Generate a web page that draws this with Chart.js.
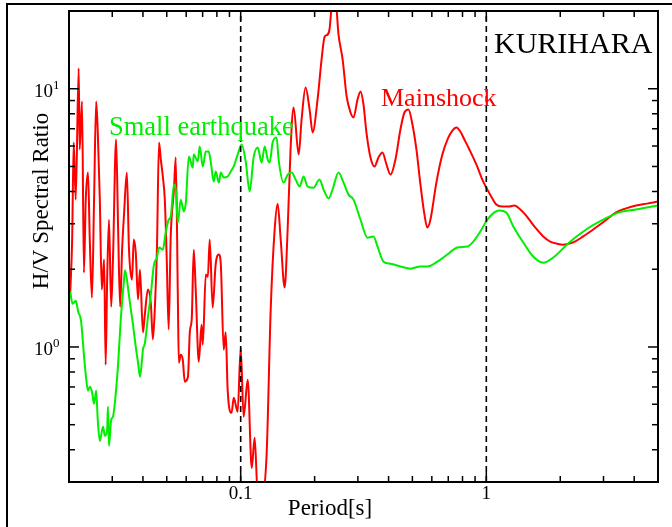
<!DOCTYPE html>
<html><head><meta charset="utf-8">
<script src="https://cdn.jsdelivr.net/npm/chart.js@4.4.1/dist/chart.umd.min.js"></script>
<style>html,body{margin:0;padding:0;background:#fff;}canvas{display:block;}</style>
</head><body>
<canvas id="c" width="672" height="527"></canvas>
<script>
// ---- data (Period [s], H/V spectral ratio) ----
const mainPeriod = [0.0202,0.0206,0.0209,0.0213,0.0219,0.0221,0.0226,0.0230,0.0234,0.0239,0.0243,0.0248,0.0253,0.0258,0.0262,0.0267,0.0272,0.0278,0.0282,0.0286,0.0291,0.0297,0.0302,0.0311,0.0317,0.0323,0.0329,0.0335,0.0344,0.0351,0.0361,0.0367,0.0374,0.0382,0.0389,0.0400,0.0407,0.0419,0.0431,0.0439,0.0447,0.0456,0.0465,0.0473,0.0482,0.0491,0.0500,0.0509,0.0519,0.0535,0.0544,0.0555,0.0560,0.0570,0.0581,0.0592,0.0610,0.0621,0.0632,0.0644,0.0656,0.0675,0.0693,0.0701,0.0721,0.0735,0.0748,0.0769,0.0791,0.0815,0.0830,0.0853,0.0869,0.0885,0.0918,0.0937,0.0972,0.100,0.1028,0.1068,0.1109,0.1140,0.1173,0.1229,0.1276,0.1325,0.1375,0.1414,0.1455,0.151,0.1553,0.1596,0.1642,0.1722,0.177,0.1837,0.1908,0.1963,0.2056,0.2135,0.2196,0.2258,0.230,0.2366,0.2432,0.2502,0.260,0.270,0.280,0.2879,0.299,0.3076,0.3162,0.325,0.3376,0.3505,0.3639,0.3778,0.3922,0.4073,0.4266,0.447,0.4642,0.482,0.5003,0.5193,0.5393,0.5598,0.5754,0.5921,0.6262,0.6623,0.7008,0.7278,0.7551,0.7838,0.8141,0.8531,0.9107,0.9632,1.0,1.048,1.098,1.161,1.240,1.300,1.361,1.427,1.496,1.597,1.705,1.820,1.944,2.056,2.258,2.479,2.723,3.018,3.378,3.71,4.073,4.514,5.0];
const mainRatio = [1.57,2.61,6.19,3.72,12.0,5.82,8.93,1.94,3.72,4.74,2.61,1.55,3.72,8.93,6.77,3.72,1.67,2.18,0.854,1.82,3.11,1.43,2.18,6.36,2.85,1.43,2.38,3.26,4.74,2.38,1.82,2.61,2.32,1.53,1.99,1.14,1.33,1.67,1.46,1.07,1.40,2.38,6.19,5.32,4.57,3.72,2.18,1.17,2.68,4.07,5.42,1.53,0.869,0.933,0.893,0.734,0.767,1.15,1.28,2.38,1.67,0.877,1.22,1.02,1.91,1.87,2.61,1.42,2.09,2.28,2.09,0.976,1.14,0.683,0.556,0.636,0.561,0.994,0.537,0.747,0.340,0.445,0.27,0.27,0.389,1.40,2.85,3.59,2.61,1.70,2.85,5.82,8.46,5.56,7.60,10.1,8.31,6.77,9.09,13.0,15.9,16.2,17.0,22,22,16.2,13.0,9.34,8.09,7.74,9.09,9.76,8.69,6.77,5.42,5.00,5.42,5.66,5.09,4.65,5.32,6.95,8.09,8.31,7.27,5.82,4.26,3.26,2.90,3.11,4.33,5.56,6.48,6.89,7.08,6.83,6.36,5.82,5.09,4.45,4.14,3.82,3.56,3.50,3.50,3.53,3.44,3.29,3.11,2.87,2.68,2.56,2.51,2.49,2.54,2.68,2.85,3.06,3.32,3.44,3.53,3.59,3.66];

const smallPeriod = [0.0202,0.0207,0.0213,0.0218,0.0224,0.0230,0.0234,0.0239,0.0243,0.0248,0.0253,0.0258,0.0262,0.0267,0.0275,0.0280,0.0286,0.0288,0.0291,0.0297,0.0302,0.0311,0.0317,0.0325,0.0335,0.0338,0.0351,0.0357,0.0364,0.0374,0.0382,0.0389,0.0396,0.0400,0.0407,0.0419,0.0431,0.0443,0.0456,0.0465,0.0482,0.0495,0.0509,0.0519,0.0535,0.0544,0.0555,0.0570,0.0587,0.0598,0.0615,0.0638,0.0644,0.0669,0.0681,0.0701,0.0721,0.0741,0.0755,0.0777,0.0791,0.0815,0.0830,0.0853,0.0885,0.0911,0.0937,0.0972,0.1009,0.1048,0.1088,0.1129,0.1173,0.1217,0.1252,0.1288,0.1312,0.1349,0.140,0.1427,0.1496,0.1553,0.1612,0.1674,0.1738,0.1803,0.1873,0.198,0.2094,0.2175,0.2279,0.2366,0.2502,0.2623,0.2748,0.2879,0.3075,0.3283,0.3473,0.3605,0.3814,0.4073,0.447,0.491,0.5393,0.5755,0.6322,0.694,0.7623,0.8373,0.8855,0.9454,1.0095,1.078,1.129,1.206,1.288,1.414,1.552,1.705,1.873,2.175,2.55,2.99,3.473,4.073,5.0];
const smallRatio = [1.64,1.47,1.51,1.37,1.26,0.934,0.781,0.677,0.702,0.671,0.603,0.677,0.518,0.433,0.491,0.453,0.478,0.587,0.414,0.523,0.537,0.683,0.862,1.28,1.82,1.98,1.58,1.40,1.23,1.00,0.869,0.767,0.877,0.976,1.03,1.30,1.61,2.07,2.22,2.43,2.38,2.77,3.11,3.20,4.26,4.07,3.03,3.72,3.35,3.63,5.47,4.95,5.56,5.23,5.97,5.00,5.71,5.71,5.23,4.37,4.78,4.33,4.74,4.53,4.57,4.78,5.00,5.56,6.08,5.23,4.00,5.42,5.92,5.18,5.97,5.32,5.18,6.19,6.48,5.32,4.33,4.65,4.74,4.45,4.18,4.57,4.18,4.14,4.45,4.07,3.76,4.07,4.74,4.33,3.89,3.72,3.11,2.65,2.68,2.45,2.14,2.10,2.05,2.01,2.05,2.05,2.14,2.28,2.43,2.45,2.56,2.80,3.11,3.32,3.38,3.32,2.93,2.54,2.24,2.12,2.22,2.54,2.85,3.11,3.32,3.41,3.53];

const refPeriods = [0.1, 1];
const xMajorTicks = [0.1, 1];
const xTickLabels = ['0.1', '1'];
const xMinorTicks = [0.03,0.04,0.05,0.06,0.07,0.08,0.09,0.2,0.3,0.4,0.5,0.6,0.7,0.8,0.9,2,3,4];
const yMajorTicks = [1, 10];
const yTickBase = ['10', '10'];
const yTickExp = ['0', '1'];
const yMinorTicks = [0.4,0.5,0.6,0.7,0.8,0.9,2,3,4,5,6,7,8,9];

const RED = '#ff0000', GREEN = '#00ee00';
const F = "'Liberation Serif','Times New Roman',serif";

const toXY = (xs, ys) => xs.map((v, i) => ({x: v, y: ys[i]}));

const decor = {
  id: 'decor',
  afterDraw(chart) {
    const {ctx, chartArea: a, scales: {x, y}} = chart;
    ctx.save();
    ctx.fillStyle = '#000';
    ctx.fillRect(6, 3, 666, 2);
    ctx.fillRect(6, 3, 2, 524);
    ctx.strokeStyle = '#000';
    ctx.lineWidth = 1.5;
    const seg = (x1, y1, x2, y2) => { ctx.beginPath(); ctx.moveTo(x1, y1); ctx.lineTo(x2, y2); ctx.stroke(); };
    xMajorTicks.forEach(v => { const p = x.getPixelForValue(v); seg(p, a.bottom, p, a.bottom - 10); seg(p, a.top, p, a.top + 10); });
    xMinorTicks.forEach(v => { const p = x.getPixelForValue(v); seg(p, a.bottom, p, a.bottom - 6); seg(p, a.top, p, a.top + 6); });
    yMajorTicks.forEach(v => { const p = y.getPixelForValue(v); seg(a.left, p, a.left + 10, p); seg(a.right, p, a.right - 10, p); });
    yMinorTicks.forEach(v => { const p = y.getPixelForValue(v); seg(a.left, p, a.left + 6, p); seg(a.right, p, a.right - 6, p); });
    ctx.lineWidth = 2;
    ctx.strokeRect(a.left, a.top, a.right - a.left, a.bottom - a.top);
    ctx.fillStyle = '#000';
    ctx.textBaseline = 'alphabetic';
    ctx.font = '19px ' + F;
    ctx.textAlign = 'center';
    xMajorTicks.forEach((v, i) => ctx.fillText(xTickLabels[i], x.getPixelForValue(v), a.bottom + 17));
    yMajorTicks.forEach((v, i) => {
      const p = y.getPixelForValue(v);
      ctx.font = '19px ' + F; ctx.textAlign = 'right';
      ctx.fillText(yTickBase[i], a.left - 16, p + 8);
      ctx.font = '13px ' + F; ctx.textAlign = 'left';
      ctx.fillText(yTickExp[i], a.left - 16, p);
    });
    ctx.font = '23px ' + F;
    ctx.textAlign = 'center';
    ctx.fillText('Period[s]', 330, 515);
    ctx.save();
    ctx.translate(48, 201);
    ctx.rotate(-Math.PI / 2);
    ctx.fillText('H/V Spectral Ratio', 0, 0);
    ctx.restore();
    ctx.textAlign = 'left';
    ctx.font = '30px ' + F;
    ctx.fillStyle = '#000';
    ctx.fillText('KURIHARA', 494, 53);
    ctx.font = '26px ' + F;
    ctx.fillStyle = RED;
    ctx.fillText('Mainshock', 381, 106);
    ctx.font = '26.5px ' + F;
    ctx.fillStyle = GREEN;
    ctx.fillText('Small earthquake', 109, 135);
    ctx.restore();
  }
};

new Chart(document.getElementById('c'), {
  type: 'scatter',
  data: {
    datasets: [
      { label: 'Small earthquake', data: toXY(smallPeriod, smallRatio), showLine: true, cubicInterpolationMode: 'monotone', borderColor: GREEN, borderWidth: 2, pointRadius: 0, order: 1, clip: 0 },
      { label: 'Mainshock', data: toXY(mainPeriod, mainRatio), showLine: true, cubicInterpolationMode: 'monotone', borderColor: RED, borderWidth: 2, pointRadius: 0, order: 2, clip: 0 },
      ...refPeriods.map(p => ({ label: 'ref ' + p, data: [{x: p, y: 0.3}, {x: p, y: 20}], showLine: true, borderColor: '#000', borderWidth: 1.6, borderDash: [6, 4], pointRadius: 0, order: 0, clip: 0 }))
    ]
  },
  options: {
    responsive: false,
    animation: false,
    devicePixelRatio: 1,
    layout: { padding: { left: 69, top: 11, right: 14, bottom: 45 } },
    plugins: { legend: { display: false }, tooltip: { enabled: false } },
    scales: {
      x: { type: 'logarithmic', min: 0.02, max: 5, display: false },
      y: { type: 'logarithmic', min: 0.3, max: 20, display: false }
    }
  },
  plugins: [decor]
});
</script>
</body></html>
